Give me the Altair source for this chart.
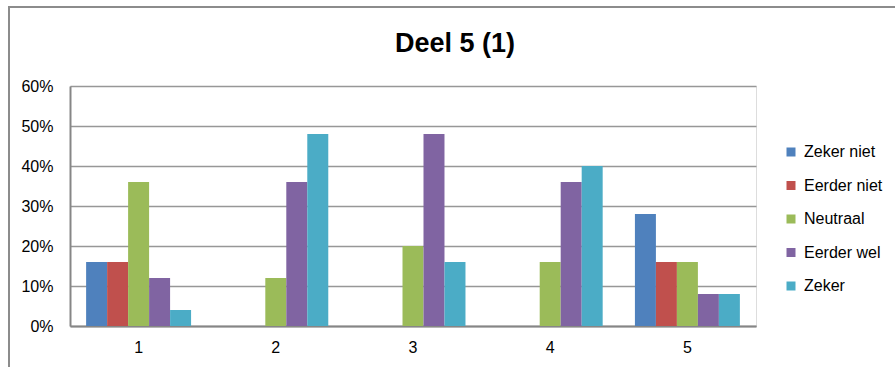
import altair as alt
import pandas as pd

categories = ["1", "2", "3", "4", "5"]
series = ["Zeker niet", "Eerder niet", "Neutraal", "Eerder wel", "Zeker"]
zeker_niet = [0.16, 0.0, 0.0, 0.0, 0.28]
eerder_niet = [0.16, 0.0, 0.0, 0.0, 0.16]
neutraal = [0.36, 0.12, 0.20, 0.16, 0.16]
eerder_wel = [0.12, 0.36, 0.48, 0.36, 0.08]
zeker = [0.04, 0.48, 0.16, 0.40, 0.08]
colors = ["#4F81BD", "#C0504D", "#9BBB59", "#8064A2", "#4BACC6"]
title_text = "Deel 5 (1)"
y_ticks = [0, 0.1, 0.2, 0.3, 0.4, 0.5, 0.6]

rows = []
for s, vals in zip(series, [zeker_niet, eerder_niet, neutraal, eerder_wel, zeker]):
    for c, v in zip(categories, vals):
        rows.append({"cat": c, "serie": s, "val": v})
df = pd.DataFrame(rows)

FONT = "Liberation Sans"

bars = alt.Chart(df).mark_bar().encode(
    x=alt.X("cat:N", sort=categories, title=None,
            scale=alt.Scale(paddingInner=0.235, paddingOuter=0.1175),
            axis=alt.Axis(labelAngle=0, ticks=False, labelPadding=13, domainColor="#868686",
                          domainWidth=2, labelFontSize=16, labelColor="#000000", labelFont=FONT, grid=False)),
    xOffset=alt.XOffset("serie:N", sort=series, scale=alt.Scale(paddingInner=0, paddingOuter=0)),
    y=alt.Y("val:Q", title=None, scale=alt.Scale(domain=[0, 0.6]),
            axis=alt.Axis(values=y_ticks, format=".0%", ticks=False, labelPadding=17,
                          domainColor="#868686", domainWidth=2, gridColor="#979797", gridWidth=1.5,
                          labelFontSize=16, labelColor="#000000", labelFont=FONT)),
    color=alt.Color("serie:N", sort=series, scale=alt.Scale(domain=series, range=colors),
                    legend=alt.Legend(title=None, orient="none", legendX=713, legendY=58,
                                      symbolType="square", symbolSize=81, symbolStrokeWidth=0,
                                      labelFontSize=16, labelFont=FONT, labelColor="#000000",
                                      labelOffset=5, rowPadding=17.5, padding=0)),
)

title = alt.Chart(pd.DataFrame({"t": [title_text]})).mark_text(
    font=FONT, fontSize=27, fontWeight="bold", color="#000000", baseline="middle", align="center"
).encode(text="t:N", x=alt.value(385), y=alt.value(-42))

frame_top = alt.Chart(pd.DataFrame({"a": [0]})).mark_rule(color="#8c8c8c", strokeWidth=2).encode(
    x=alt.value(-62), x2=alt.value(830), y=alt.value(-79))
frame_left = alt.Chart(pd.DataFrame({"a": [0]})).mark_rule(color="#8c8c8c", strokeWidth=2).encode(
    x=alt.value(-61), y=alt.value(-80), y2=alt.value(290))

chart = alt.layer(bars, title, frame_top, frame_left).properties(
    width=686, height=240,
    autosize=alt.AutoSizeParams(type="none"),
    padding={"left": 70, "top": 86, "right": 139, "bottom": 41},
).configure_view(stroke=None).configure(background="white")

chart.save("out.html", embed_options={"renderer": "svg", "actions": False})
